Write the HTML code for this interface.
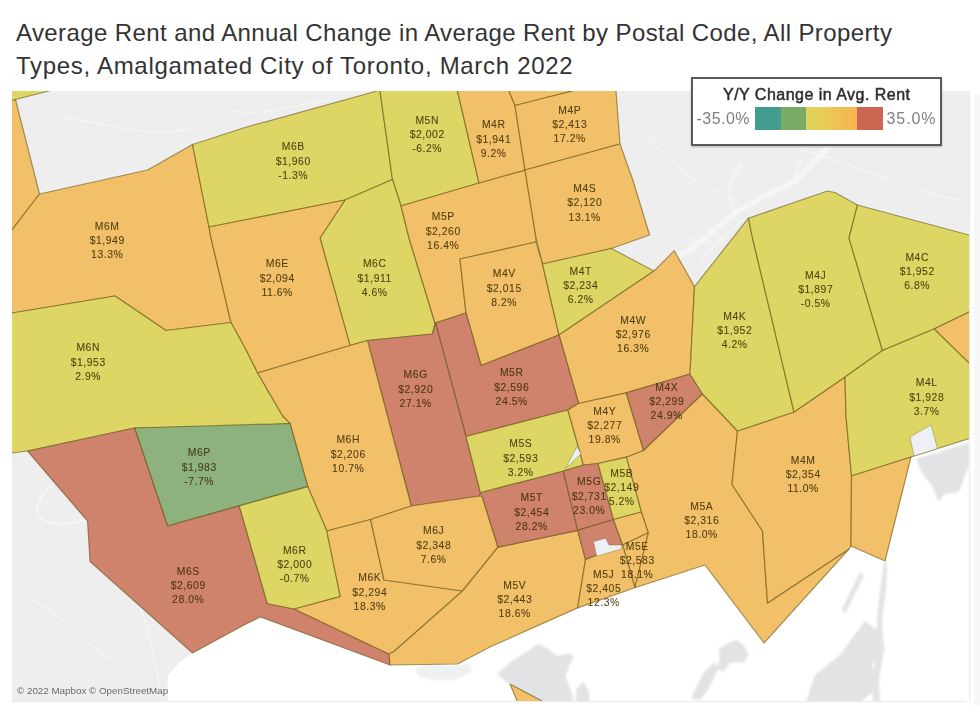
<!DOCTYPE html>
<html><head><meta charset="utf-8"><title>Average Rent by Postal Code</title>
<style>
html,body{margin:0;padding:0;background:#fff;}
body{width:980px;height:712px;position:relative;overflow:hidden;font-family:"Liberation Sans",sans-serif;}
#title span{position:absolute;left:16px;font-size:24px;line-height:28px;color:#333;white-space:nowrap;}
#t1{top:19px;letter-spacing:0.40px;} #t2{top:52.4px;letter-spacing:0.70px;}
#map{position:absolute;left:0;top:0;width:980px;height:712px;filter:blur(0.6px);}
#legend{position:absolute;left:691px;top:77px;width:246.5px;height:64.5px;border:2px solid #5a5a5a;background:#fff;box-shadow:0 1px 2px rgba(0,0,0,.25);}
#legend .t{position:absolute;left:30px;top:6.5px;white-space:nowrap;font-size:16px;font-weight:normal;color:#2e2e2e;letter-spacing:0.48px;-webkit-text-stroke:0.5px #2e2e2e;}
#legend .bar{position:absolute;left:62px;top:28.3px;width:127.5px;height:22.3px;display:flex;}
#legend .bar i{flex:1;display:block;}
#legend .l,#legend .r{position:absolute;top:31.2px;font-size:16px;line-height:18px;color:#808080;white-space:nowrap;}
#legend .l{left:3.5px;letter-spacing:0.47px;} #legend .r{left:193.5px;letter-spacing:0.92px;}
#attr{position:absolute;left:17px;top:685px;font-size:9.8px;color:#6a6a6a;}
</style></head><body>
<div id="title"><span id="t1">Average Rent and Annual Change in Average Rent by Postal Code, All Property</span><span id="t2">Types, Amalgamated City of Toronto, March 2022</span></div>
<svg id="map" viewBox="0 0 980 712">
<defs><filter id="bl" x="-10%" y="-10%" width="120%" height="120%"><feGaussianBlur stdDeviation="1.2"/></filter><clipPath id="mc"><rect x="12" y="91" width="957" height="611"/></clipPath></defs>
<rect x="12" y="91" width="957" height="611" fill="#eeeeee"/>
<rect x="974" y="94" width="6" height="612" fill="#f8f8f8"/>
<g clip-path="url(#mc)">
<!-- water -->
<polygon id="water" fill="#ffffff" points="260.6,617 390,665 457.5,664 490,647 577.7,607.9 634.9,587.7 705,565 764,643 849,549 851,546 885,561 911,457 969,438.5 979,438.5 979,712 168,712 167.5,676 180,662 192.5,653 245,624.5"/>
<!-- gray islands -->
<g fill="#e2e3e5" filter="url(#bl)">
<polygon points="497,674 511,662 538.6,644 548,649 557,656 568.6,653 574,657 569,666 565.7,677 570,688 574,702 520,702 511,686"/>
<polygon points="576,690 583,681 588.6,691 590,702 576,702"/>
<polygon points="691,699 698,683 705.7,670 714,663 719,667 708,690 700,700"/>
<polygon points="718.6,649 728,643 737,640 744,646 748.6,654 745,662 730,663 723,672 717,668 720,658"/>
<polygon points="860,572 864,576 852,600 845,614 842,610 850,592"/>
<polygon points="884,562 887,562 886,590 882,620 884,650 879,680 880,702 873,702 872,680 876,650 877,620 880,590"/>
<polygon points="865,621 881,633 885,650 872,664 876,690 860,702 806,702 815,675 840,655 852,638"/>
<polygon points="916,459 969,442.6 969,465 959,492 944.7,494 938.5,502 932,485.7 922,473"/>
<polygon opacity="0.55" points="415,668 432,664 452,666 470,663 472,672 455,680 430,680 418,676"/>
</g>
<!-- faint valleys -->
<g fill="none" stroke="#f9f9f9" stroke-linecap="round" stroke-linejoin="round" filter="url(#bl)"><path d="M668,262 L690,250 L712,232 L735,213 L765,196 L794,182 L817,159 L835,140 L850,120" stroke-width="5" opacity="0.75"/><path d="M735,213 L728,190 L740,165 M794,182 L800,160" stroke-width="3" opacity="0.6"/></g>
<!-- faint roads in land -->
<g fill="none" stroke="#fafafa" stroke-width="1.5" stroke-linecap="round" stroke-linejoin="round" opacity="0.6">
<path d="M52,486 C40,495 33,508 40,517 C48,526 68,525 86,520" stroke-width="2.6" opacity="1.4"/>
<path d="M690,237 C700,245 712,246 722,238 C730,232 736,226 742,220 M700,262 C708,252 716,244 726,238 M705,268 C712,262 722,252 734,240"/>
<path d="M60,118 C110,122 150,140 190,128 M230,110 C260,118 290,105 330,100"/>
<path d="M30,600 C60,610 80,640 110,660 M120,560 C140,600 150,630 160,690"/>
<path d="M650,140 C680,170 700,190 740,200 M800,150 C850,160 900,190 960,200"/>
</g>
<g stroke="#62500f" stroke-opacity="0.56" stroke-width="1.2" stroke-linejoin="round">
<polygon points="12,91 12,81 49,81 49,91 15.5,99.5 12,100.5 2,100.5 2,91" fill="#ddd664"/>
<polygon points="12,100.5 15.5,99.5 39.5,194 12,230 2,230 2,100.5" fill="#f2c069"/>
<polygon points="39.5,194 147.5,170 192.5,144.5 209,227 211,238 231,322.5 166,330.5 115,296 12,313 2,313 2,230 12,230" fill="#f2c069"/>
<polygon points="192.5,144.5 245,127.5 377,91 377,81 380,81 380,91 392.5,179.5 345,200 245,220 209,227" fill="#ddd664"/>
<polygon points="380,91 380,81 457.5,81 457.5,91 479,183 401,206 392.5,179.5" fill="#ddd664"/>
<polygon points="345,200 392.5,179.5 401,206 409,238 435,323 432.5,334 367.5,340.5 350,345.5 320,238" fill="#ddd664"/>
<polygon points="209,227 345,200 320,238 350,345.5 257.5,373 245,348 231,322.5 211,238" fill="#f2c069"/>
<polygon points="401,206 479,183 525,170 536,238 536,242 460,259 466,313 435,323 409,238" fill="#f2c069"/>
<polygon points="457.5,91 457.5,81 509,81 509,91 515,105.5 525,170 479,183" fill="#f2c069"/>
<polygon points="509,91 509,81 572.5,81 572.5,91 515,105.5" fill="#f2c069"/>
<polygon points="515,105.5 572.5,91 572.5,81 616,81 616,91 620,144 525,170" fill="#f2c069"/>
<polygon points="525,170 620,144 632.8,180 649.6,235 611.4,248.5 542.5,264 536,238" fill="#f2c069"/>
<polygon points="460,259 536,242 542.5,264 559,335 481,365.5 466,313" fill="#f2c069"/>
<polygon points="542.5,264 611.4,248.5 654,271 559,335" fill="#ddd664"/>
<polygon points="559,335 654,271 674.3,250.7 694.5,286.6 690,374 626.3,392.8 578.7,403.5" fill="#f2c069"/>
<polygon points="435.5,323 466,313 481,365.5 559,335 578.7,403.5 567.9,410 466,436.5" fill="#cf836d"/>
<polygon points="367.5,340.5 432.5,334 435.5,323 466,436.5 480.4,492.5 480,496 411.3,506" fill="#cf836d"/>
<polygon points="257.5,373 350,345.5 367.5,340.5 411.3,506 370.6,519.5 326.8,531 307.8,486.7 290,423.5 282.5,416" fill="#f2c069"/>
<polygon points="12,313 115,296 166,330.5 231,322.5 245,348 257.5,373 282.5,416 290,423.5 245,426 134.5,428 27.5,451 12,453 2,453 2,313" fill="#ddd664"/>
<polygon points="134.5,428 290,423.5 307.8,486.7 239.3,505.8 167.5,526" fill="#8eb27d"/>
<polygon points="27.5,451 134.5,428 167.5,526 239.3,505.8 267.3,603.5 294.3,609 389,654 390,665 260.6,617 245,624.5 192.5,653 90,561.5 87.5,521" fill="#cf836d"/>
<polygon points="239.3,505.8 307.8,486.7 326.8,531 340.3,596.7 294.3,609 267.3,603.5" fill="#ddd664"/>
<polygon points="326.8,531 370.6,519.5 384,580 462.5,591 394,651.5 389,654 294.3,609 340.3,596.7" fill="#f2c069"/>
<polygon points="370.6,519.5 411,506 480,496 482.2,496.7 498,547.2 462.5,591 384,580" fill="#f2c069"/>
<polygon points="498,547.2 577.7,530.4 585.5,559.6 577.7,607.9 490,647 457.5,664 390,665 389,654 394,651.5 462.5,591" fill="#f2c069"/>
<polygon points="480.4,492.5 563.3,471 577.7,530.4 498,547.2 482.2,496.7" fill="#cf836d"/>
<polygon points="466,436.5 567.9,410 583.5,465 563.3,471 480.4,492.5" fill="#ddd664"/>
<polygon points="567.9,410 578.7,403.5 626.3,392.8 643.6,450.5 626.5,457.2 598,463.5 583.5,465" fill="#f2c069"/>
<polygon points="626.3,392.8 690,374 702.5,394 643.6,450.5" fill="#cf836d"/>
<polygon points="563.3,471 583.5,465 598,463.5 613.5,519.5 577.7,530.4" fill="#cf836d"/>
<polygon points="577.7,530.4 613.5,519.5 622.6,545 585.5,559.6" fill="#cf836d"/>
<polygon points="598,463.5 626.5,457.2 641.5,512 613.5,519.5" fill="#ddd664"/>
<polygon points="613.5,519.5 641.5,512 648.4,532.7 622.6,545" fill="#f2c069"/>
<polygon points="622.6,545 648.4,532.7 634.9,587.7" fill="#f2c069"/>
<polygon points="585.5,559.6 622.6,545 634.9,587.7 577.7,607.9" fill="#f2c069"/>
<polygon points="643.6,450.5 702.5,394 737.5,431 732,484.5 762.5,531 767.5,603 849,549 764,643 705,565 634.9,587.7 648.4,532.7 641.5,512 626.5,457.2" fill="#f2c069"/>
<polygon points="737.5,431 794,412 845,377 846,416 851.5,476 851,546 849,549 767.5,603 762.5,531 732,484.5" fill="#f2c069"/>
<polygon points="694.5,286.6 748.4,218.2 752.5,238 794,412 737.5,431 702.5,394 690,374" fill="#ddd664"/>
<polygon points="748.4,218.2 827.5,191 835,192.5 857.5,205 849,238 882.5,350.5 845,377 794,412 752.5,238" fill="#ddd664"/>
<polygon points="857.5,205 969,235 979,235 979,312 969,312 934,329 882.5,350.5 849,238" fill="#ddd664"/>
<polygon points="934,329 969,312 979,312 979,363 969,363" fill="#f2c069"/>
<polygon points="845,377 882.5,350.5 934,329 969,363 979,363 979,438.5 969,438.5 911,457 851.5,476 846,416" fill="#ddd664"/>
<polygon points="851.5,476 911,457 885,561 851,546" fill="#f2c069"/>
<polygon points="510,684 544,702 544,712 517.5,712 517.5,702" fill="#f2c069"/>
</g>
<polygon points="577.2,446.4 581,454 565.2,468.6" fill="#eef0f5" stroke="#6a5410" stroke-opacity="0.35" stroke-width="1"/>
<polygon points="593.4,541.6 605.7,538.3 609,545 622,545 621,549 596.7,556.2" fill="#eef0f5" stroke="#6a5410" stroke-opacity="0.35" stroke-width="1"/>
<polygon points="910,437 931,425 937.5,448.5 914,456" fill="#eef0f5" stroke="#6a5410" stroke-opacity="0.35" stroke-width="1"/>
</g>
<path d="M12,701.6 H966 M969.6,91 V702" stroke="#ececec" stroke-width="1.2" fill="none"/>
<g font-family="Liberation Sans, sans-serif" font-size="10.4px" letter-spacing="0.55" fill="#3a2c05" fill-opacity="0.86" stroke="#3a2c05" stroke-width="0.2" stroke-opacity="0.4" text-anchor="middle">
<text x="107.2" y="229.7">M6M</text><text x="107.2" y="244.0">$1,949</text><text x="107.2" y="258.3">13.3%</text>
<text x="293.2" y="150.2">M6B</text><text x="293.2" y="164.5">$1,960</text><text x="293.2" y="178.8">-1.3%</text>
<text x="427.2" y="123.7">M5N</text><text x="427.2" y="138.0">$2,002</text><text x="427.2" y="152.3">-6.2%</text>
<text x="493.7" y="128.2">M4R</text><text x="493.7" y="142.5">$1,941</text><text x="493.7" y="156.8">9.2%</text>
<text x="569.7" y="113.7">M4P</text><text x="569.7" y="128.0">$2,413</text><text x="569.7" y="142.3">17.2%</text>
<text x="584.7" y="192.0">M4S</text><text x="584.7" y="206.3">$2,120</text><text x="584.7" y="220.6">13.1%</text>
<text x="443.2" y="220.2">M5P</text><text x="443.2" y="234.5">$2,260</text><text x="443.2" y="248.8">16.4%</text>
<text x="277.2" y="267.2">M6E</text><text x="277.2" y="281.5">$2,094</text><text x="277.2" y="295.8">11.6%</text>
<text x="374.7" y="267.2">M6C</text><text x="374.7" y="281.5">$1,911</text><text x="374.7" y="295.8">4.6%</text>
<text x="504.2" y="277.2">M4V</text><text x="504.2" y="291.5">$2,015</text><text x="504.2" y="305.8">8.2%</text>
<text x="580.7" y="274.7">M4T</text><text x="580.7" y="289.0">$2,234</text><text x="580.7" y="303.3">6.2%</text>
<text x="633.2" y="323.7">M4W</text><text x="633.2" y="338.0">$2,976</text><text x="633.2" y="352.3">16.3%</text>
<text x="734.7" y="319.7">M4K</text><text x="734.7" y="334.0">$1,952</text><text x="734.7" y="348.3">4.2%</text>
<text x="815.7" y="278.7">M4J</text><text x="815.7" y="293.0">$1,897</text><text x="815.7" y="307.3">-0.5%</text>
<text x="917.2" y="260.7">M4C</text><text x="917.2" y="275.0">$1,952</text><text x="917.2" y="289.3">6.8%</text>
<text x="88.2" y="351.2">M6N</text><text x="88.2" y="365.5">$1,953</text><text x="88.2" y="379.8">2.9%</text>
<text x="415.7" y="378.2">M6G</text><text x="415.7" y="392.5">$2,920</text><text x="415.7" y="406.8">27.1%</text>
<text x="511.7" y="376.2">M5R</text><text x="511.7" y="390.5">$2,596</text><text x="511.7" y="404.8">24.5%</text>
<text x="666.7" y="390.7">M4X</text><text x="666.7" y="405.0">$2,299</text><text x="666.7" y="419.3">24.9%</text>
<text x="926.7" y="386.2">M4L</text><text x="926.7" y="400.5">$1,928</text><text x="926.7" y="414.8">3.7%</text>
<text x="604.7" y="414.7">M4Y</text><text x="604.7" y="429.0">$2,277</text><text x="604.7" y="443.3">19.8%</text>
<text x="199.2" y="456.2">M6P</text><text x="199.2" y="470.5">$1,983</text><text x="199.2" y="484.8">-7.7%</text>
<text x="348.2" y="443.2">M6H</text><text x="348.2" y="457.5">$2,206</text><text x="348.2" y="471.8">10.7%</text>
<text x="520.7" y="447.2">M5S</text><text x="520.7" y="461.5">$2,593</text><text x="520.7" y="475.8">3.2%</text>
<text x="621.7" y="476.7">M5B</text><text x="621.7" y="491.0">$2,149</text><text x="621.7" y="505.3">5.2%</text>
<text x="589.2" y="485.2">M5G</text><text x="589.2" y="499.5">$2,731</text><text x="589.2" y="513.8">23.0%</text>
<text x="531.7" y="501.2">M5T</text><text x="531.7" y="515.5">$2,454</text><text x="531.7" y="529.8">28.2%</text>
<text x="803.2" y="463.7">M4M</text><text x="803.2" y="478.0">$2,354</text><text x="803.2" y="492.3">11.0%</text>
<text x="701.7" y="509.7">M5A</text><text x="701.7" y="524.0">$2,316</text><text x="701.7" y="538.3">18.0%</text>
<text x="433.7" y="534.2">M6J</text><text x="433.7" y="548.5">$2,348</text><text x="433.7" y="562.8">7.6%</text>
<text x="188.2" y="574.7">M6S</text><text x="188.2" y="589.0">$2,609</text><text x="188.2" y="603.3">28.0%</text>
<text x="294.7" y="553.7">M6R</text><text x="294.7" y="568.0">$2,000</text><text x="294.7" y="582.3">-0.7%</text>
<text x="369.7" y="581.2">M6K</text><text x="369.7" y="595.5">$2,294</text><text x="369.7" y="609.8">18.3%</text>
<text x="514.7" y="588.7">M5V</text><text x="514.7" y="603.0">$2,443</text><text x="514.7" y="617.3">18.6%</text>
<text x="637.2" y="549.7">M5E</text><text x="637.2" y="564.0">$2,583</text><text x="637.2" y="578.3">18.1%</text>
<text x="603.7" y="577.7">M5J</text><text x="603.7" y="592.0">$2,405</text><text x="603.7" y="606.3">12.3%</text>
</g>
</svg>
<div id="legend"><div class="t">Y/Y Change in Avg. Rent</div>
<div class="l">-35.0%</div><div class="bar"><i style="background:#429d8e"></i><i style="background:#7aac66"></i><i style="background:linear-gradient(90deg,#dcd35a,#ebc957)"></i><i style="background:linear-gradient(90deg,#f0c255,#f5b54e)"></i><i style="background:#cb6650"></i></div><div class="r">35.0%</div></div>
<div id="attr">© 2022 Mapbox © OpenStreetMap</div>
</body></html>
